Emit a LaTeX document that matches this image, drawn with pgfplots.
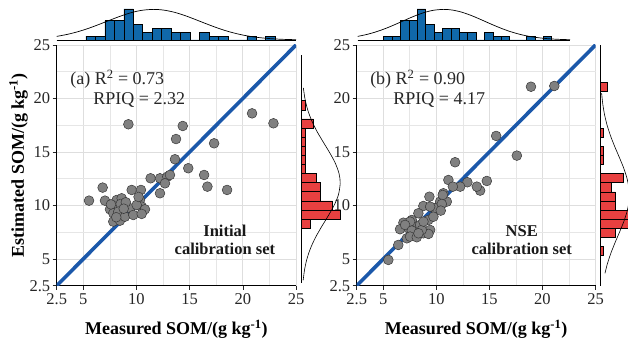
\documentclass[border=0pt]{standalone}
\usepackage{fontspec}
\setmainfont{Liberation Serif}
\usepackage{pgfplots}
\pgfplotsset{compat=1.18}
\definecolor{histblue}{RGB}{16,104,170}
\definecolor{histred}{RGB}{232,64,64}
\definecolor{lineblue}{RGB}{27,88,170}
\definecolor{ptfill}{RGB}{128,128,128}
\definecolor{ptdraw}{RGB}{55,55,55}
\definecolor{gridgray}{RGB}{222,222,222}
\tikzset{
  annot/.style={font=\fontsize{18bp}{20bp}\selectfont, text=black!85},
  boldnote/.style={font=\fontsize{16.5bp}{18bp}\selectfont\bfseries, text=black!90},
}
\pgfplotsset{
  mainax/.style={scale only axis, anchor=south west, height=240.7bp,
    xmin=2.5, xmax=25, ymin=2.5, ymax=25,
    axis lines=left, axis line style={-, black, line width=0.7bp},
    xtick={2.5,5,10,15,20,25}, ytick={2.5,5,10,15,20,25},
    xticklabels={2.5,5,10,15,20,25}, yticklabels={2.5,5,10,15,20,25},
    minor xtick={7.5,12.5,17.5,22.5}, minor ytick={7.5,12.5,17.5,22.5},
    grid=both, major grid style={gridgray, line width=0.9bp},
    minor grid style={gridgray!75, line width=0.6bp},
    tick align=outside, major tick length=4bp, minor tick length=0pt,
    tick style={black!85, line width=0.6bp},
    ticklabel style={font=\fontsize{16.5bp}{16.5bp}\selectfont, text=black!85},
    yticklabel style={xshift=1bp},
    /pgf/number format/assume math mode=true,
    every axis x label/.style={at={(axis description cs:0.5,-0.181)}, anchor=center,
      font=\fontsize{18bp}{20bp}\selectfont\bfseries},
    every axis y label/.style={at={(axis description cs:-0.159,0.5)}, anchor=center, rotate=90,
      font=\fontsize{18bp}{20bp}\selectfont\bfseries},
  },
  pts/.style={only marks, mark=*, mark size=4.9bp, mark options={fill=ptfill, draw=ptdraw, line width=0.5bp}},
  oneone/.style={lineblue, line width=3.6bp},
  tophist/.style={scale only axis, anchor=south west, height=31bp,
    xmin=2.5, xmax=25, ymin=0, ymax=8, axis x line=bottom, axis y line=none,
    axis line style={-, black, line width=0.8bp}, xtick=\empty, ytick=\empty, clip=false},
  righthist/.style={scale only axis, anchor=south west,
    xmin=0, axis y line=left, axis x line=none,
    axis line style={-, black, line width=0.8bp}, xtick=\empty, ytick=\empty, clip=false},
}
\begin{document}
\begin{tikzpicture}
\path[use as bounding box] (0,0) rectangle (628bp,344bp);

% ---------------- Panel (a) main ----------------
\begin{axis}[mainax, at={(56.7bp,58.3bp)}, width=239.3bp,
  xlabel={Measured SOM/(g kg\textsuperscript{-1})},
  ylabel={Estimated SOM/(g kg\textsuperscript{-1})}]
\addplot[pts] coordinates {
(5.54,10.45) (6.82,11.67) (7.04,10.45) (8.14,10.51) (8.61,10.67) (7.98,9.89)
(8.51,10.14) (7.51,9.64) (7.82,9.27) (8.29,9.42) (7.82,8.49) (8.45,8.58)
(8.92,8.95) (9.39,9.74) (9.70,9.11) (9.55,11.45) (10.42,11.45) (10.33,10.51)
(10.49,9.89) (10.80,9.64) (10.49,9.21) (10.02,10.05) (11.33,12.54) (12.21,12.54)
(12.90,12.69) (12.68,12.07) (12.21,11.14) (13.15,12.85) (13.62,14.32) (14.87,13.48)
(9.24,17.59) (14.35,17.43) (13.72,16.21) (20.87,18.61) (22.88,17.68) (17.30,15.81)
(16.36,12.85) (16.67,11.76) (18.52,11.45) (8.10,8.90) (7.60,10.10) (9.00,10.30)
(8.80,9.70) (10.20,10.80)
};
\addplot[oneone] coordinates {(2.5,2.5) (25,25)};
\node[annot, anchor=base west] at (axis description cs:0.042,0.834) {(a) R\textsuperscript{2} = 0.73};
\node[annot, anchor=base west] at (axis description cs:0.139,0.751) {RPIQ = 2.32};
\node[boldnote, anchor=base] at (axis description cs:0.703,0.204) {Initial};
\node[boldnote, anchor=base] at (axis description cs:0.703,0.128) {calibration set};
\end{axis}

% ---------------- Panel (b) main ----------------
\begin{axis}[mainax, at={(356.7bp,58.3bp)}, width=238.8bp,
  xlabel={Measured SOM/(g kg\textsuperscript{-1})}]
\addplot[pts] coordinates {
(18.92,21.10) (21.12,21.17) (15.64,16.50) (17.59,14.66) (11.77,14.04) (14.76,12.29)
(14.13,11.39) (13.82,11.76) (12.93,12.17) (11.14,12.38) (12.25,11.76) (11.56,11.76)
(10.67,11.14) (9.35,10.82) (10.36,10.36) (10.99,10.36) (8.78,9.95) (9.89,9.74)
(8.31,9.27) (9.25,8.64) (9.73,8.95) (7.69,8.64) (6.90,8.39) (6.58,7.78)
(7.37,7.87) (8.16,8.02) (8.00,7.55) (8.78,7.40) (9.42,7.71) (7.22,6.93)
(6.42,6.31) (8.47,8.18) (5.48,4.91) (10.61,10.98) (10.52,10.14) (10.42,9.52)
(9.42,9.89) (9.26,7.34) (8.63,7.71) (7.53,8.49) (7.06,8.18) (7.69,7.65)
(7.53,7.09) (8.16,7.03) (8.79,8.49) (8.32,7.40)
};
\addplot[oneone] coordinates {(2.5,2.5) (25,25)};
\node[annot, anchor=base west] at (axis description cs:0.042,0.834) {(b) R\textsuperscript{2} = 0.90};
\node[annot, anchor=base west] at (axis description cs:0.139,0.751) {RPIQ = 4.17};
\node[boldnote, anchor=base] at (axis description cs:0.691,0.204) {NSE};
\node[boldnote, anchor=base] at (axis description cs:0.691,0.128) {calibration set};
\end{axis}

% ---------------- Top histograms ----------------
\begin{axis}[tophist, at={(56.7bp,304bp)}, width=239.3bp]
\addplot[ybar interval, fill=histblue, draw=black, line width=0.6bp] coordinates {
(5.25,1) (6.14,1) (7.03,5) (7.92,5) (8.81,8) (9.70,4) (10.59,2) (11.48,3) (12.37,3)
(13.26,2) (14.15,2) (15.04,0) (15.93,2) (16.82,1) (17.71,1) (18.60,0) (19.49,0)
(20.38,1) (21.27,0) (22.16,1) (23.05,0)};
\addplot[black, line width=0.7bp, smooth] coordinates {
(2.5,0.93) (3.5,1.45) (4.5,2.15) (5.5,3.02) (6.5,4.04) (7.5,5.12) (8.5,6.16) (9.5,7.05)
(10.5,7.66) (11.6,7.9) (12.5,7.74) (13.5,7.2) (14.5,6.36) (15.5,5.33) (16.5,4.25)
(17.5,3.22) (18.5,2.31) (19.5,1.58) (20.5,1.02) (21.5,0.63) (22.5,0.37) (23.5,0.20)
(24.5,0.11) (25,0.08)};
\end{axis}

\begin{axis}[tophist, at={(357.7bp,304bp)}, width=212.3bp]
\addplot[ybar interval, fill=histblue, draw=black, line width=0.6bp] coordinates {
(5.25,1) (6.14,1) (7.03,5) (7.92,5) (8.81,8) (9.70,4) (10.59,2) (11.48,3) (12.37,3)
(13.26,2) (14.15,2) (15.04,0) (15.93,2) (16.82,1) (17.71,1) (18.60,0) (19.49,0)
(20.38,1) (21.27,0) (22.16,1) (23.05,0)};
\addplot[black, line width=0.7bp, smooth] coordinates {
(2.5,0.93) (3.5,1.45) (4.5,2.15) (5.5,3.02) (6.5,4.04) (7.5,5.12) (8.5,6.16) (9.5,7.05)
(10.5,7.66) (11.6,7.9) (12.5,7.74) (13.5,7.2) (14.5,6.36) (15.5,5.33) (16.5,4.25)
(17.5,3.22) (18.5,2.31) (19.5,1.58) (20.5,1.02) (21.5,0.63) (22.5,0.37) (23.5,0.20)
(24.5,0.11) (25,0.08)};
\end{axis}

% ---------------- Right histograms ----------------
\begin{axis}[righthist, at={(301.7bp,61bp)}, width=50bp, height=228bp,
  xmax=50, ymin=2.76, ymax=24.07]
\addplot[xbar interval, fill=histred, draw=black, line width=0.6bp] coordinates {
(8.3,7.89) (38.3,8.74) (31,9.59) (19,10.44) (19,11.29) (15,12.14) (4,12.99) (4,13.84)
(4,14.69) (4,15.54) (4,16.39) (11.7,17.24) (0,18.09) (4,18.94) (0,19.79)};
\addplot[black, line width=0.6bp, smooth] coordinates {
(1.44,3) (2.85,4) (5.21,5) (8.79,6) (13.72,7) (19.76,8) (26.3,9) (32.3,10) (36.7,11)
(38.5,12.1) (37.3,13) (33.4,14) (27.6,15) (21.1,16) (14.85,17) (9.68,18) (5.82,19)
(3.23,20) (1.66,21)};
\end{axis}

\begin{axis}[righthist, at={(600.3bp,58.3bp)}, width=40bp, height=240.7bp,
  xmax=40, ymin=2.5, ymax=25]
\addplot[xbar interval, fill=histred, draw=black, line width=0.6bp] coordinates {
(3,5.32) (0,6.17) (15,7.02) (30,7.87) (30,8.72) (15,9.57) (15,10.42) (11,11.27)
(23,12.12) (0,12.97) (3,13.82) (3,14.67) (0,15.52) (3,16.37) (0,17.22) (0,18.07)
(0,18.92) (0,19.77) (7.3,20.63) (0,21.48)};
\addplot[black, line width=0.6bp, smooth] coordinates {
(4.67,3.66) (6.93,4.5) (10.42,5.5) (14.63,6.5) (19.19,7.5) (23.52,8.5) (26.91,9.5)
(28.77,10.5) (28.73,11.5) (26.8,12.5) (23.36,13.5) (19.01,14.5) (14.45,15.5)
(10.27,16.5) (6.81,17.5) (4.22,18.5) (2.44,19.5) (1.32,20.5)};
\end{axis}
\end{tikzpicture}
\end{document}
